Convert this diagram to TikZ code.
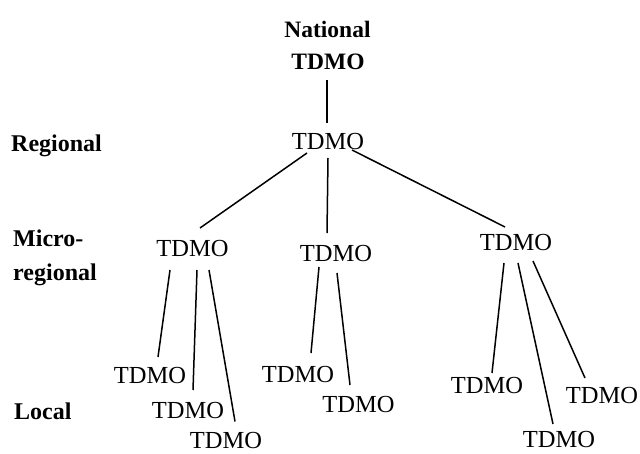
\documentclass[tikz,border=0pt]{standalone}
\usepackage{fontspec}
\setmainfont{Liberation Serif}
\begin{document}
\begin{tikzpicture}[x=1pt,y=-1pt,
  org/.style={inner sep=0pt,anchor=base,font=\fontsize{24.5}{27}\selectfont},
  orgb/.style={inner sep=0pt,anchor=base,font=\fontsize{23.5}{26}\selectfont\bfseries},
  lvl/.style={inner sep=0pt,anchor=base west,font=\fontsize{24}{26}\selectfont\bfseries},
  link/.style={line width=1.5pt}]
\useasboundingbox (0,0) rectangle (640,454);
% top
\node[orgb] (nat) at (327.5,38) {National};
\node[orgb] (natT) at (328,70) {TDMO};
\node[org] (reg) at (328,150) {TDMO};
% micro-regional
\node[org] (m1) at (192.5,257) {TDMO};
\node[org] (m2) at (336,262) {TDMO};
\node[org] (m3) at (516,251) {TDMO};
% local
\node[org] (l1) at (150,383) {TDMO};
\node[org] (l2) at (188,418) {TDMO};
\node[org] (l3) at (226,448.5) {TDMO};
\node[org] (l4) at (298,382) {TDMO};
\node[org] (l5) at (358.5,412) {TDMO};
\node[org] (l6) at (487,393) {TDMO};
\node[org] (l7) at (559,447) {TDMO};
\node[org] (l8) at (602,403) {TDMO};
% level labels
\node[lvl] (lr) at (11,152) {Regional};
\node[lvl] (lm1) at (13,247) {Micro-};
\node[lvl] (lm2) at (13,281) {regional};
\node[lvl] (ll) at (14,419) {Local};
% connectors
\draw[link] ([shift={(-1,10)}]natT.base) -- ([shift={(-1,-27)}]reg.base);
\draw[link] ([shift={(-21,3)}]reg.base) -- ([shift={(7.5,-29)}]m1.base);
\draw[link] ([shift={(0,8)}]reg.base) -- ([shift={(-9,-29)}]m2.base);
\draw[link] ([shift={(24,0)}]reg.base) -- ([shift={(-11,-24)}]m3.base);
\draw[link] ([shift={(-22.5,13)}]m1.base) -- ([shift={(8,-26)}]l1.base);
\draw[link] ([shift={(4.5,13)}]m1.base) -- ([shift={(5,-28)}]l2.base);
\draw[link] ([shift={(16.5,13)}]m1.base) -- ([shift={(9,-27)}]l3.base);
\draw[link] ([shift={(-17,5)}]m2.base) -- ([shift={(13,-29)}]l4.base);
\draw[link] ([shift={(1,11)}]m2.base) -- ([shift={(-8.5,-27)}]l5.base);
\draw[link] ([shift={(-12,12)}]m3.base) -- ([shift={(5,-20)}]l6.base);
\draw[link] ([shift={(2,12)}]m3.base) -- ([shift={(-6,-23)}]l7.base);
\draw[link] ([shift={(17,10)}]m3.base) -- ([shift={(-17,-25)}]l8.base);
\end{tikzpicture}
\end{document}
